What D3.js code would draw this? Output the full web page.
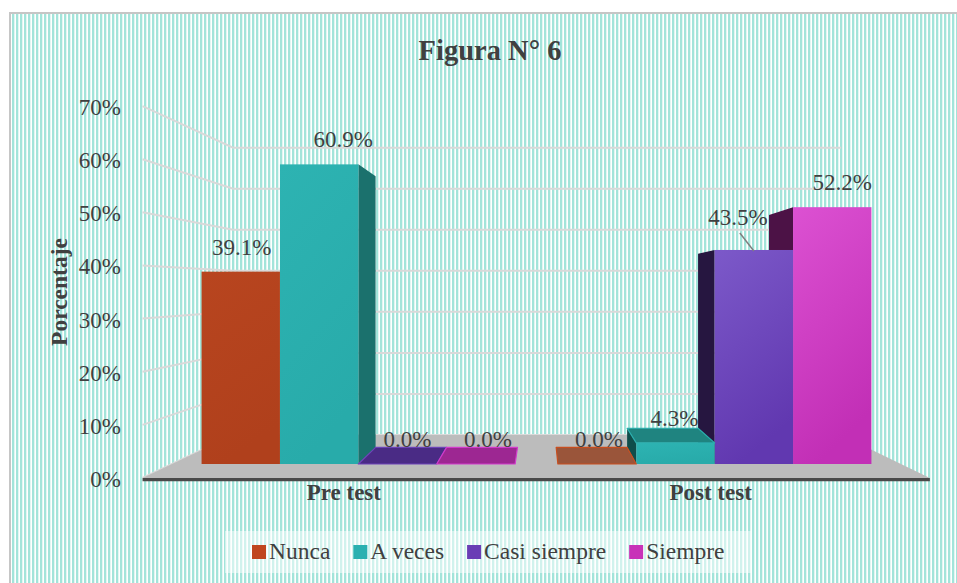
<!DOCTYPE html>
<html>
<head>
<meta charset="utf-8">
<script src="https://cdn.jsdelivr.net/npm/d3@7"></script>
<style>
  body { margin: 0; background: #fff; }
  svg { display: block; }
  text { font-family: "Liberation Serif", "Times New Roman", serif; fill: #404040; }
</style>
</head>
<body>
<div id="chart"></div>
<script>
// data
var groups = ["Pre test", "Post test"];
var series = ["Nunca", "A veces", "Casi siempre", "Siempre"];
var preTest = [39.1, 60.9, 0.0, 0.0];
var postTest = [0.0, 4.3, 43.5, 52.2];
var yTicks = [0, 10, 20, 30, 40, 50, 60, 70];

// shading for each series (front top / front bottom / sides / top / edge)
var colours = [
  { front: ["#b8451f", "#b0401c"], right: "#7a2b12", left: "#6a2510", top: "#9a553a", edge: "#c84e1f", key: "#c0461f" },
  { front: ["#2db3b2", "#28abaa"], right: "#1b716d", left: "#0f4d4a", top: "#1f8480", edge: "#2aafae", key: "#2ab0b0" },
  { front: ["#7c59c9", "#6138b0"], right: "#3a2270", left: "#261640", top: "#4a2b85", edge: "#6c43b8", key: "#6a3db5" },
  { front: ["#dc51d2", "#c22fb6"], right: "#7a1a70", left: "#4c1246", top: "#9d2792", edge: "#d23acb", key: "#c832b8" }
];

// small manual nudges of the data labels, as in the original
var labelNudge = [[1, 0], [24, 0], [10, 0], [12, 0], [2, 0], [-1, 0], [-16, -8], [10, 0]];
var catNudge = [0, -18];

var width = 957, height = 583;

// simple perspective: a point in the front plane (x, y) pushed to depth s
var vx = 540, vy = 289;
var sFloorFront = 1.08, sBarFront = 1, sBarBack = 0.905, sWall = 0.834;
function proj(x, y, s) { return [vx + (x - vx) * s, vy + (y - vy) * s]; }

var svg = d3.select("#chart").append("svg")
  .attr("width", width)
  .attr("height", height);

var defs = svg.append("defs");
var pat = defs.append("pattern")
  .attr("id", "stripes")
  .attr("width", 4).attr("height", 4)
  .attr("patternUnits", "userSpaceOnUse");
pat.append("rect").attr("width", 4).attr("height", 4).attr("fill", "#fff");
pat.append("rect").attr("x", 0).attr("width", 2.3).attr("height", 4).attr("fill", "#a3e4da");

colours.forEach(function(c, i) {
  var g = defs.append("linearGradient")
    .attr("id", "front" + i)
    .attr("x1", 0).attr("y1", 0).attr("x2", 0.3).attr("y2", 1);
  g.append("stop").attr("offset", "0%").attr("stop-color", c.front[0]);
  g.append("stop").attr("offset", "100%").attr("stop-color", c.front[1]);
});

// chart area frame
svg.append("rect")
  .attr("x", 10).attr("y", 13)
  .attr("width", 960).attr("height", 600)
  .attr("fill", "url(#stripes)")
  .attr("stroke", "#c6c6c6")
  .attr("stroke-width", 2);

// scales in the front plane
var x0 = d3.scaleBand().domain(groups).range([172, 901])
  .paddingInner(0.12).paddingOuter(0.083);
var x1 = d3.scaleBand().domain(series).range([0, x0.bandwidth()]);
var y = d3.scaleLinear().domain([0, 70]).range([464, 464 - 4.92 * 70]);

var xl = x0.range()[0], xr = x0.range()[1];

// gridlines: left wall + back wall
var grid = svg.append("g");
yTicks.forEach(function(t) {
  var a = proj(xl, y(t), sFloorFront), b = proj(xl, y(t), sWall), c = proj(xr, y(t), sWall);
  grid.append("polyline")
    .attr("points", [a, b, c].map(function(p) { return p.join(","); }).join(" "))
    .attr("fill", "none")
    .attr("stroke", "#d9d9d9")
    .attr("stroke-width", 2);
});

// y tick labels
svg.append("g").selectAll("text")
  .data(yTicks)
  .enter().append("text")
  .attr("x", 121)
  .attr("y", function(t) { return proj(xl, y(t), sFloorFront)[1] + 9; })
  .attr("text-anchor", "end")
  .style("font-size", "23px")
  .text(function(t) { return t + "%"; });

// floor
var floorPts = [proj(xl, y(0), sFloorFront), proj(xr, y(0), sFloorFront),
                proj(xr, y(0), sWall), proj(xl, y(0), sWall)];
svg.append("polygon")
  .attr("points", floorPts.map(function(p) { return p.join(","); }).join(" "))
  .attr("fill", "#bcbcbc");
var edgePts = [proj(xl, y(0), sFloorFront), proj(xr, y(0), sFloorFront),
               proj(xr, y(0) + 3, sFloorFront), proj(xl, y(0) + 3, sFloorFront)];
svg.append("polygon")
  .attr("points", edgePts.map(function(p) { return p.join(","); }).join(" "))
  .attr("fill", "#4a4a4a");

// bars
var bars = [];
[preTest, postTest].forEach(function(vals, gi) {
  vals.forEach(function(v, si) {
    var X0 = x0(groups[gi]) + x1(series[si]);
    bars.push({ g: gi, s: si, v: v, X0: X0, X1: X0 + x1.bandwidth(), idx: gi * series.length + si });
  });
});

function poly(sel, pts, fill, stroke) {
  sel.append("polygon")
    .attr("points", pts.map(function(p) { return p.join(","); }).join(" "))
    .attr("fill", fill)
    .attr("stroke", stroke || "none")
    .attr("stroke-width", stroke ? 1.2 : 0)
    .attr("stroke-linejoin", "round");
}

var barLayer = svg.append("g");
bars.slice()
  .sort(function(a, b) {
    return Math.abs((b.X0 + b.X1) / 2 - vx) - Math.abs((a.X0 + a.X1) / 2 - vx);
  })
  .forEach(function(d) {
    var c = colours[d.s], g = barLayer.append("g");
    var Yt = y(d.v), Yb = y(0);
    if (Yb - Yt > 0.5) {
      if (d.X1 < vx) {
        poly(g, [proj(d.X1, Yt, sBarFront), proj(d.X1, Yt, sBarBack),
                 proj(d.X1, Yb, sBarBack), proj(d.X1, Yb, sBarFront)], c.right);
      }
      if (d.X0 > vx) {
        poly(g, [proj(d.X0, Yt, sBarFront), proj(d.X0, Yt, sBarBack),
                 proj(d.X0, Yb, sBarBack), proj(d.X0, Yb, sBarFront)], c.left);
      }
    }
    if (Yt > vy) {
      poly(g, [proj(d.X0, Yt, sBarFront), proj(d.X1, Yt, sBarFront),
               proj(d.X1, Yt, sBarBack), proj(d.X0, Yt, sBarBack)], c.top, c.edge);
    }
    if (Yb - Yt > 0.5) {
      g.append("rect")
        .attr("x", d.X0).attr("y", Yt)
        .attr("width", d.X1 - d.X0).attr("height", Yb - Yt)
        .attr("fill", "url(#front" + d.s + ")");
    }
  });

// data labels
var labels = svg.append("g");
bars.forEach(function(d) {
  var n = labelNudge[d.idx];
  var lx = (d.X0 + d.X1) / 2 + n[0];
  var ly = y(d.v) - 17 + n[1];
  if (n[1] !== 0) {
    labels.append("line")
      .attr("x1", lx + 2).attr("y1", ly + 8)
      .attr("x2", (d.X0 + d.X1) / 2).attr("y2", y(d.v) + 1)
      .attr("stroke", "#7f7f7f")
      .attr("stroke-width", 1.5);
  }
  labels.append("text")
    .attr("x", lx).attr("y", ly)
    .attr("text-anchor", "middle")
    .style("font-size", "23px")
    .text(d3.format(".1f")(d.v) + "%");
});

// category labels
svg.append("g").selectAll("text")
  .data(groups)
  .enter().append("text")
  .attr("x", function(g, i) {
    return proj(x0(g) + x0.bandwidth() / 2, y(0), sFloorFront)[0] + catNudge[i];
  })
  .attr("y", 500)
  .attr("text-anchor", "middle")
  .style("font-size", "23px")
  .style("font-weight", "bold")
  .text(function(g) { return g; });

// title + axis title
svg.append("text")
  .attr("x", 490).attr("y", 60)
  .attr("text-anchor", "middle")
  .style("font-size", "28.5px")
  .style("font-weight", "bold")
  .text("Figura N° 6");

svg.append("text")
  .attr("transform", "translate(67,292) rotate(-90)")
  .attr("text-anchor", "middle")
  .style("font-size", "23.5px")
  .style("font-weight", "bold")
  .text("Porcentaje");

// legend
var legend = svg.append("g");
legend.append("rect")
  .attr("x", 225).attr("y", 531)
  .attr("width", 527).attr("height", 42)
  .attr("fill", "#fff")
  .attr("opacity", 0.5);

var lxPos = 252;
series.forEach(function(s, i) {
  legend.append("rect")
    .attr("x", lxPos).attr("y", 545)
    .attr("width", 14).attr("height", 14)
    .attr("fill", colours[i].key);
  var t = legend.append("text")
    .attr("x", lxPos + 17).attr("y", 559)
    .style("font-size", "23.5px")
    .text(s);
  lxPos += 17 + t.node().getComputedTextLength() + 23;
});
</script>
</body>
</html>
